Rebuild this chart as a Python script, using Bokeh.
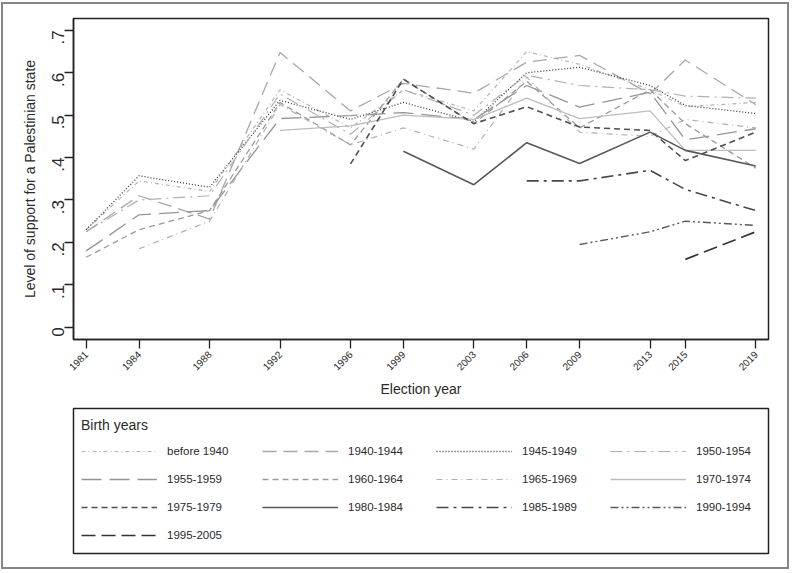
import math
from bokeh.plotting import figure
from bokeh.models import ColumnDataSource, FixedTicker, Legend, LegendItem
from bokeh.layouts import column
from bokeh.embed import file_html
from bokeh.resources import INLINE

years = [1981, 1984, 1988, 1992, 1996, 1999, 2003, 2006, 2009, 2013, 2015, 2019]
year_labels = [str(y) for y in years]
y_ticks = [0, 0.1, 0.2, 0.3, 0.4, 0.5, 0.6, 0.7]
y_tick_labels = ["0", ".1", ".2", ".3", ".4", ".5", ".6", ".7"]

cohorts = ["before 1940", "1940-1944", "1945-1949", "1950-1954", "1955-1959",
           "1960-1964", "1965-1969", "1970-1974", "1975-1979", "1980-1984",
           "1985-1989", "1990-1994", "1995-2005"]

before_1940 = [0.230, 0.345, 0.320, 0.560, 0.470, 0.560, 0.510, 0.650, 0.620, 0.560, 0.520, 0.530]
c1940_1944 = [0.225, 0.310, 0.255, 0.648, 0.510, 0.575, 0.552, 0.625, 0.641, 0.550, 0.630, 0.525]
c1945_1949 = [0.230, 0.357, 0.330, 0.535, 0.490, 0.530, 0.485, 0.600, 0.613, 0.570, 0.523, 0.504]
c1950_1954 = [0.225, 0.300, 0.310, 0.550, 0.455, 0.560, 0.500, 0.594, 0.570, 0.560, 0.545, 0.540]
c1955_1959 = [0.180, 0.265, 0.275, 0.492, 0.499, 0.506, 0.490, 0.570, 0.519, 0.554, 0.442, 0.468]
c1960_1964 = [0.165, 0.230, 0.275, 0.530, 0.430, 0.585, 0.480, 0.580, 0.470, 0.560, 0.480, 0.375]
c1965_1969 = [None, 0.185, 0.250, 0.525, 0.430, 0.470, 0.420, 0.590, 0.460, 0.450, 0.490, 0.470]
c1970_1974 = [None, None, None, 0.464, 0.475, 0.500, 0.490, 0.540, 0.492, 0.510, 0.417, 0.417]
c1975_1979 = [None, None, None, None, 0.385, 0.585, 0.480, 0.520, 0.472, 0.464, 0.393, 0.460]
c1980_1984 = [None, None, None, None, None, 0.415, 0.336, 0.435, 0.386, 0.460, 0.417, 0.380]
c1985_1989 = [None, None, None, None, None, None, None, 0.345, 0.345, 0.370, 0.325, 0.275]
c1990_1994 = [None, None, None, None, None, None, None, None, 0.195, 0.225, 0.250, 0.240]
c1995_2005 = [None, None, None, None, None, None, None, None, None, None, 0.160, 0.225]

series = [before_1940, c1940_1944, c1945_1949, c1950_1954, c1955_1959, c1960_1964,
          c1965_1969, c1970_1974, c1975_1979, c1980_1984, c1985_1989, c1990_1994, c1995_2005]

styles = [
    ("#b4b4b4", 1.2, "4 3 1 3"),
    ("#a8a8a8", 1.3, "14 7"),
    ("#3a3a3a", 1.3, "1 2"),
    ("#b0b0b0", 1.2, "12 5 2 5"),
    ("#959595", 1.3, "20 8"),
    ("#9a9a9a", 1.3, "6 4"),
    ("#b0b0b0", 1.2, "6 4 1 4"),
    ("#bdbdbd", 1.3, "solid"),
    ("#505050", 1.6, "6 4"),
    ("#585858", 1.6, "solid"),
    ("#484848", 1.6, "12 5 3 5"),
    ("#5a5a5a", 1.4, "8 3 2 3 2 3"),
    ("#333333", 1.7, "14 6"),
]

txt = "#2a2a2a"
font = "Liberation Sans"

# ---------------- chart ----------------
p = figure(width=784, height=396, output_backend="svg", toolbar_location=None,
           x_range=(1980.28, 2019.72), y_range=(-0.029, 0.728),
           min_border_left=63, min_border_right=13, min_border_top=14, min_border_bottom=61)
p.background_fill_color = "white"
p.border_fill_color = "white"
p.outline_line_color = "#222222"
p.outline_line_width = 1.5
p.xgrid.visible = False
p.ygrid.visible = False

p.xaxis.ticker = FixedTicker(ticks=years)
p.xaxis.major_label_overrides = {y: l for y, l in zip(years, year_labels)}
p.xaxis.major_label_orientation = math.pi / 4
p.xaxis.major_label_text_font_size = "10px"
p.xaxis.axis_label = "Election year"
p.xaxis.axis_label_standoff = 4
p.xaxis.major_label_standoff = 4

p.yaxis.ticker = FixedTicker(ticks=y_ticks)
p.yaxis.major_label_overrides = {t: l for t, l in zip(y_ticks, y_tick_labels)}
p.yaxis.major_label_orientation = math.pi / 2
p.yaxis.major_label_text_font_size = "17px"
p.yaxis.axis_label = "Level of support for a Palestinian state"
p.yaxis.axis_label_standoff = 6
p.yaxis.major_label_standoff = 6

for ax in (p.xaxis[0], p.yaxis[0]):
    ax.axis_line_color = "#222222"
    ax.axis_line_width = 1.5
    ax.major_tick_line_color = "#222222"
    ax.major_tick_line_width = 1.3
    ax.major_tick_out = 9
    ax.major_tick_in = 0
    ax.minor_tick_line_color = None
    ax.major_label_text_color = txt
    ax.major_label_text_font = font
    ax.axis_label_text_font = font
    ax.axis_label_text_font_size = "14px"
    ax.axis_label_text_font_style = "normal"
    ax.axis_label_text_color = txt

sources = []
for name, vals, (col, w, dash) in zip(cohorts, series, styles):
    xs = [y for y, v in zip(years, vals) if v is not None]
    ys = [v for v in vals if v is not None]
    src = ColumnDataSource(dict(x=xs, y=ys))
    sources.append(src)
    p.line("x", "y", source=src, line_color=col, line_width=w, line_dash=dash)

# ---------------- legend panel ----------------
pl = figure(width=784, height=167, output_backend="svg", toolbar_location=None,
            x_range=(0, 1), y_range=(0, 1), x_axis_type=None, y_axis_type=None,
            min_border_left=70, min_border_right=19, min_border_top=8, min_border_bottom=14)
pl.background_fill_color = "white"
pl.border_fill_color = "white"
pl.outline_line_color = "#222222"
pl.outline_line_width = 1.5
pl.xgrid.visible = False
pl.ygrid.visible = False

keys = []
for name, src, (col, w, dash) in zip(cohorts, sources, styles):
    # same data as the chart; it lies outside this panel's ranges, only the key shows
    r = pl.line("x", "y", source=src, line_color=col, line_width=w, line_dash=dash)
    keys.append(LegendItem(label=name, renderers=[r]))

# four columns, items in row-major order
col_x = [8, 189, 363, 537]
for c in range(4):
    its = keys[c::4]
    if c == 0:
        leg = Legend(items=its, title="Birth years", location=(col_x[c], 8))
    else:
        leg = Legend(items=its, location=(col_x[c], 36))
    leg.border_line_color = None
    leg.background_fill_color = None
    leg.background_fill_alpha = 0
    leg.glyph_width = 76
    leg.glyph_height = 20
    leg.label_height = 20
    leg.label_standoff = 10
    leg.spacing = 8
    leg.padding = 0
    leg.margin = 0
    leg.title_standoff = 8
    leg.label_text_font = font
    leg.label_text_font_size = "11.5px"
    leg.label_text_color = txt
    leg.title_text_font = font
    leg.title_text_font_size = "14px"
    leg.title_text_font_style = "normal"
    leg.title_text_color = txt
    pl.add_layout(leg, "center")

layout = column(p, pl, spacing=0,
                styles={"border": "2px solid #868686", "margin-top": "2px", "margin-left": "1px"})

open("out.html", "w").write(file_html(layout, INLINE))
